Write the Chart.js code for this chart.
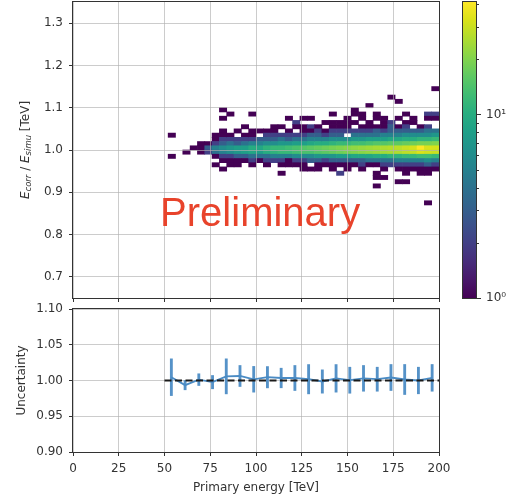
<!DOCTYPE html>
<html>
<head>
<meta charset="utf-8">
<script src="https://cdn.jsdelivr.net/npm/chart.js@4.4.1/dist/chart.umd.min.js"></script>
<style>
  html, body { margin: 0; padding: 0; background: #fff; }
  #wrap { position: relative; width: 516px; height: 500px; overflow: hidden; }
  #wrap canvas { position: absolute; }
</style>
</head>
<body>
<div id="wrap">
  <canvas id="ratioChart" width="452" height="305" style="left:0px;top:0px"></canvas>
  <canvas id="uncChart" width="452" height="200" style="left:0px;top:300px"></canvas>
  <canvas id="colourBar" width="64" height="312" style="left:452px;top:0px"></canvas>
</div>
<script>
// ---- 2D histogram: primary energy vs corrected/simulated energy ratio ----
const energyEdges = [52, 56, 60, 64, 68, 72, 76, 80, 84, 88, 92, 96, 100, 104, 108, 112, 116, 120, 124,
  128, 132, 136, 140, 144, 148, 152, 156, 160, 164, 168, 172, 176, 180, 184, 188, 192, 196, 200];
const ratioEdges = [1.15, 1.14, 1.13, 1.12, 1.11, 1.10, 1.09, 1.08, 1.07, 1.06, 1.05, 1.04, 1.03, 1.02,
  1.01, 1.00, 0.99, 0.98, 0.97, 0.96, 0.95, 0.94, 0.93, 0.92, 0.91, 0.90, 0.89, 0.88, 0.87];
// one row per energy bin; entries run from the highest ratio bin down to the lowest
const counts = [
  [0,0,0,0,0,0,0,0,0,0, 0,1,0,0,0,0,1,0,0,0, 0,0,0,0,0,0,0,0],
  [0,0,0,0,0,0,0,0,0,0, 0,0,0,0,0,0,0,0,0,0, 0,0,0,0,0,0,0,0],
  [0,0,0,0,0,0,0,0,0,0, 0,0,0,0,0,1,0,0,0,0, 0,0,0,0,0,0,0,0],
  [0,0,0,0,0,0,0,0,0,0, 0,0,0,0,1,0,0,0,0,0, 0,0,0,0,0,0,0,0],
  [0,0,0,0,0,0,0,0,0,0, 0,0,0,1,1,1,0,0,0,0, 0,0,0,0,0,0,0,0],
  [0,0,0,0,0,0,0,0,0,0, 0,0,0,1,3,2,0,0,0,0, 0,0,0,0,0,0,0,0],
  [0,0,0,0,0,0,0,0,0,0, 0,1,1,2,5,4,1,0,1,0, 0,0,0,0,0,0,0,0],
  [0,0,0,0,0,1,0,1,0,0, 1,1,2,3,6,5,2,1,0,1, 0,0,0,0,0,0,0,0],
  [0,0,0,0,0,0,1,0,0,0, 0,1,2,4,7,6,2,1,1,0, 0,0,0,0,0,0,0,0],
  [0,0,0,0,0,0,0,0,0,0, 1,0,2,3,8,7,3,1,1,0, 0,0,0,0,0,0,0,0],
  [0,0,0,0,0,0,0,0,0,1, 0,1,2,4,8,8,3,1,0,0, 0,0,0,0,0,0,0,0],
  [0,0,0,0,0,0,1,0,0,0, 1,1,2,5,10,9,4,2,1,0, 0,0,0,0,0,0,0,0],
  [0,0,0,0,0,0,0,0,0,0, 1,0,3,5,9,8,4,1,0,0, 0,0,0,0,0,0,0,0],
  [0,0,0,0,0,0,0,0,0,0, 1,2,3,6,11,10,4,2,1,0, 0,0,0,0,0,0,0,0],
  [0,0,0,0,0,0,0,0,0,1, 1,2,3,6,12,11,5,2,0,0, 0,0,0,0,0,0,0,0],
  [0,0,0,0,0,0,0,0,0,1, 0,2,4,7,12,12,5,2,1,0, 1,0,0,0,0,0,0,0],
  [0,0,0,0,0,0,0,1,0,0, 1,2,3,7,13,12,5,1,1,0, 0,0,0,0,0,0,0,0],
  [0,0,0,0,0,0,0,0,2,1, 0,2,4,8,14,13,6,2,1,0, 0,0,0,0,0,0,0,0],
  [0,0,0,0,0,0,0,1,0,1, 1,2,4,8,15,14,6,2,1,1, 0,0,0,0,0,0,0,0],
  [0,0,0,0,0,0,0,1,0,2, 1,3,5,9,16,14,6,3,0,1, 0,0,0,0,0,0,0,0],
  [0,0,0,0,0,0,0,0,0,1, 2,3,5,10,17,15,7,3,1,1, 0,0,0,0,0,0,0,0],
  [0,0,0,0,0,0,0,0,1,0, 1,2,5,10,18,16,7,2,1,0, 0,0,0,0,0,0,0,0],
  [0,0,0,0,0,0,1,0,1,1, 2,3,6,11,19,17,7,3,1,1, 0,0,0,0,0,0,0,0],
  [0,0,0,0,0,0,0,0,1,1, 2,3,6,12,20,18,8,3,1,0, 2,0,0,0,0,0,0,0],
  [0,0,0,0,0,0,0,1,1,1, 2,0,6,12,21,19,8,3,1,1, 0,0,0,0,0,0,0,0],
  [0,0,0,0,0,1,1,0,1,0, 2,4,7,13,22,20,9,3,1,0, 0,0,0,0,0,0,0,0],
  [0,0,0,0,0,0,1,1,0,1, 2,4,7,13,23,21,9,3,2,1, 0,0,0,0,0,0,0,0],
  [0,0,0,0,1,0,0,0,1,1, 2,4,8,14,24,22,9,4,1,0, 0,0,0,0,0,0,0,0],
  [0,0,0,0,0,0,1,1,0,1, 3,4,8,15,25,23,10,4,1,0, 1,1,0,1,0,0,0,0],
  [0,0,0,0,0,0,0,1,1,1, 2,5,8,15,26,24,10,4,2,1, 0,1,0,0,0,0,0,0],
  [0,0,1,0,0,0,0,0,2,3, 3,5,9,16,27,25,11,4,2,0, 0,0,0,0,0,0,0,0],
  [0,0,0,1,0,0,0,1,0,1, 3,5,9,16,28,26,11,5,2,1, 0,0,1,0,0,0,0,0],
  [0,0,0,0,0,0,1,0,1,2, 3,6,10,17,30,28,12,5,2,1, 1,0,1,0,0,0,0,0],
  [0,0,0,0,0,0,0,1,1,0, 3,6,10,18,32,29,12,5,2,1, 0,0,0,0,0,0,0,0],
  [0,0,0,0,0,0,0,0,0,1, 3,6,11,19,41,33,13,5,2,1, 1,0,0,0,0,0,0,0],
  [0,0,0,0,0,0,2,1,0,2, 4,6,11,19,33,31,13,6,3,1, 1,0,0,0,0,0,0,1],
  [1,0,0,0,0,0,2,1,0,0, 4,7,12,20,32,30,12,5,2,1, 0,0,0,0,0,0,0,0]
];

// ---- relative uncertainty per energy bin ----
const uncEnergy = [53.75, 61.25, 68.75, 76.25, 83.75, 91.25, 98.75, 106.25, 113.75, 121.25,
  128.75, 136.25, 143.75, 151.25, 158.75, 166.25, 173.75, 181.25, 188.75, 196.25];
const uncValue = [1.0046, 0.9935, 1.0012, 0.9977, 1.0058, 1.0063, 1.0017, 1.0046, 1.0035, 1.0035,
  1.0018, 0.9986, 1.0030, 1.0004, 1.0030, 1.0018, 1.0042, 1.0014, 1.0000, 1.0037];
const uncError = [0.0257, 0.0065, 0.0082, 0.0093, 0.0245, 0.0147, 0.0180, 0.0149, 0.0137, 0.0175,
  0.0205, 0.0163, 0.0193, 0.0182, 0.0180, 0.0168, 0.0182, 0.0210, 0.0186, 0.0187];
const refEnergy = [50, 200];
const refValue = [1, 1];

// ---- ticks ----
const energyTicks = [0, 25, 50, 75, 100, 125, 150, 175, 200];
const ratioTicks = [0.7, 0.8, 0.9, 1.0, 1.1, 1.2, 1.3];
const uncTicks = [0.90, 0.95, 1.00, 1.05, 1.10];
const colourTicks = [1, 2, 3, 4, 5, 6, 7, 8, 9, 10, 20, 30, 40];

// ---- styling ----
const FONT = '"DejaVu Sans", sans-serif';
const TEXT = '#333333';
const GRID = 'rgba(176,176,176,0.65)';
const SPINE = '#333333';
Chart.defaults.font.family = FONT;
Chart.defaults.font.size = 12;
Chart.defaults.color = TEXT;

const viridisStops = ['#440154', '#48186a', '#472d7b', '#424086', '#3b528b', '#33638d', '#2c728e',
  '#26828e', '#21918c', '#1fa088', '#28ae80', '#3fbc73', '#5ec962', '#84d44b', '#addc30', '#d8e219', '#fde725'];
function hexRgb(h) { return [1, 3, 5].map(i => parseInt(h.substr(i, 2), 16)); }
function viridis(t) {
  t = Math.min(1, Math.max(0, t));
  const p = t * (viridisStops.length - 1);
  const i = Math.min(Math.floor(p), viridisStops.length - 2);
  const f = p - i;
  const a = hexRgb(viridisStops[i]), b = hexRgb(viridisStops[i + 1]);
  const c = a.map((v, k) => Math.round(v + (b[k] - v) * f));
  return `rgb(${c[0]},${c[1]},${c[2]})`;
}
const countMax = Math.max(...counts.flat());
function countColour(n) { return viridis(Math.log(n) / Math.log(countMax)); }

// cells of the histogram as floating bars
const heatCells = [];
counts.forEach((col, c) => {
  col.forEach((n, r) => {
    if (n > 0) {
      heatCells.push({ x: (energyEdges[c] + energyEdges[c + 1]) / 2, y: [ratioEdges[r + 1], ratioEdges[r]], n });
    }
  });
});

function fixedTicks(values) {
  return scale => { scale.ticks = values.map(v => ({ value: v })); };
}

const frame = {
  id: 'frame',
  afterDraw(chart) {
    const { ctx, chartArea: a } = chart;
    ctx.save();
    ctx.strokeStyle = SPINE;
    ctx.lineWidth = 1;
    ctx.strokeRect(a.left - 0.5, a.top - 0.5, a.width + 1, a.height + 1);
    ctx.restore();
  }
};

// y-axis title with italic symbols and subscripts
const ratioTitle = {
  id: 'ratioTitle',
  afterDraw(chart) {
    const { ctx, chartArea: a } = chart;
    const big = 'italic 12px ' + FONT, small = 'italic 8.5px ' + FONT, plain = '12px ' + FONT;
    const parts = [['E', big, 0], ['corr', small, 2.5], [' / ', plain, 0], ['E', big, 0], ['simu', small, 2.5], [' [TeV]', plain, 0]];
    ctx.save();
    let total = 0;
    const widths = parts.map(p => { ctx.font = p[1]; const w = ctx.measureText(p[0]).width; total += w; return w; });
    ctx.translate(28.5, (a.top + a.bottom) / 2);
    ctx.rotate(-Math.PI / 2);
    ctx.fillStyle = TEXT;
    ctx.textBaseline = 'alphabetic';
    let x = -total / 2;
    parts.forEach((p, i) => { ctx.font = p[1]; ctx.fillText(p[0], x, p[2]); x += widths[i]; });
    ctx.restore();
  }
};

const preliminary = {
  id: 'preliminary',
  afterDraw(chart) {
    const { ctx, scales } = chart;
    ctx.save();
    ctx.font = '40px "Liberation Sans", Arial, sans-serif';
    ctx.fillStyle = '#e8432b';
    ctx.textBaseline = 'alphabetic';
    ctx.fillText('Preliminary', scales.x.getPixelForValue(47.6), scales.y.getPixelForValue(0.8195));
    ctx.restore();
  }
};

function noEdgePadding(width, height) {
  return scale => {
    if (width !== undefined) scale.width = width;
    if (height !== undefined) scale.height = height;
    scale.paddingTop = 0; scale.paddingBottom = 0; scale.paddingLeft = 0; scale.paddingRight = 0;
  };
}

// ---- upper panel: histogram ----
new Chart(document.getElementById('ratioChart'), {
  type: 'bar',
  data: {
    datasets: [{
      data: heatCells,
      backgroundColor: ctx => countColour(ctx.raw.n),
      borderWidth: 0,
      barPercentage: 1,
      categoryPercentage: 1,
      grouped: false
    }]
  },
  options: {
    responsive: false,
    animation: false,
    events: [],
    layout: { padding: { top: 2, right: 13, bottom: 0, left: 0 } },
    plugins: { legend: { display: false }, tooltip: { enabled: false } },
    scales: {
      x: {
        type: 'linear', min: 0, max: 200, offset: false,
        afterBuildTicks: fixedTicks(energyTicks),
        afterFit: noEdgePadding(undefined, 7),
        ticks: { display: false },
        grid: { color: GRID, lineWidth: 1, z: 1, offset: false, tickLength: 4, tickColor: SPINE },
        border: { display: false }
      },
      y: {
        type: 'linear', min: 0.65, max: 1.35,
        afterBuildTicks: fixedTicks(ratioTicks),
        afterFit: noEdgePadding(73, undefined),
        ticks: { padding: 6, callback: v => v.toFixed(1), font: { size: 12 } },
        grid: { color: GRID, lineWidth: 1, z: 1, tickLength: 4, tickColor: SPINE },
        border: { display: false }
      }
    }
  },
  plugins: [frame, ratioTitle, preliminary]
});

// ---- lower panel: uncertainty ----
new Chart(document.getElementById('uncChart'), {
  type: 'bar',
  data: {
    datasets: [
      {
        type: 'line',
        data: refEnergy.map((e, i) => ({ x: e, y: refValue[i] })),
        borderColor: '#1a1a1a', borderWidth: 2, borderDash: [7, 3.5],
        pointRadius: 0, order: 0
      },
      {
        type: 'line',
        data: uncEnergy.map((e, i) => ({ x: e, y: uncValue[i] })),
        borderColor: '#4a8bc4', borderWidth: 1.8, tension: 0,
        pointRadius: 0, order: 1
      },
      {
        type: 'bar',
        data: uncEnergy.map((e, i) => ({ x: e, y: [uncValue[i] - uncError[i], uncValue[i] + uncError[i]] })),
        backgroundColor: '#5592c8', borderWidth: 0,
        barThickness: 2.2, order: 2
      }
    ]
  },
  options: {
    responsive: false,
    animation: false,
    events: [],
    layout: { padding: { top: 9, right: 13, bottom: 0, left: 0 } },
    plugins: { legend: { display: false }, tooltip: { enabled: false } },
    scales: {
      x: {
        type: 'linear', min: 0, max: 200, offset: false,
        afterBuildTicks: fixedTicks(energyTicks),
        afterFit: noEdgePadding(undefined, 48),
        ticks: { padding: 6, maxRotation: 0, autoSkip: false },
        grid: { color: GRID, lineWidth: 1, offset: false, tickLength: 4, tickColor: SPINE },
        border: { display: false },
        title: { display: true, text: 'Primary energy [TeV]', color: TEXT, font: { size: 12 }, padding: { top: 0, bottom: 5 } }
      },
      y: {
        type: 'linear', min: 0.9, max: 1.1,
        afterBuildTicks: fixedTicks(uncTicks),
        afterFit: noEdgePadding(73, undefined),
        ticks: { padding: 6, callback: v => v.toFixed(2) },
        grid: { color: GRID, lineWidth: 1, tickLength: 4, tickColor: SPINE },
        border: { display: false },
        title: { display: true, text: 'Uncertainty', color: TEXT, font: { size: 12 }, padding: { top: 15, bottom: 0 } }
      }
    }
  },
  plugins: [frame]
});

// ---- colour bar (log scale of counts) ----
const colourTickMarks = {
  id: 'colourTickMarks',
  afterDraw(chart) {
    const { ctx, chartArea: a, scales } = chart;
    ctx.save();
    ctx.strokeStyle = SPINE;
    ctx.lineWidth = 1;
    colourTicks.forEach(v => {
      if (v > countMax) return;
      const y = Math.round(scales.y.getPixelForValue(v)) + 0.5;
      const len = (v === 1 || v === 10) ? 5 : 3;
      ctx.beginPath();
      ctx.moveTo(a.right, y);
      ctx.lineTo(a.right + len, y);
      ctx.stroke();
    });
    ctx.restore();
  }
};

new Chart(document.getElementById('colourBar'), {
  type: 'bar',
  data: {
    labels: ['counts'],
    datasets: [{
      data: [[1, countMax]],
      backgroundColor: ctx => {
        const area = ctx.chart.chartArea;
        if (!area) return viridisStops[0];
        const g = ctx.chart.ctx.createLinearGradient(0, area.bottom, 0, area.top);
        viridisStops.forEach((c, i) => g.addColorStop(i / (viridisStops.length - 1), c));
        return g;
      },
      borderWidth: 0,
      barPercentage: 1,
      categoryPercentage: 1
    }]
  },
  options: {
    responsive: false,
    animation: false,
    events: [],
    layout: { padding: { top: 2, right: 0, bottom: 14, left: 11 } },
    plugins: { legend: { display: false }, tooltip: { enabled: false } },
    scales: {
      x: { display: false },
      y: {
        type: 'logarithmic', position: 'right', min: 1, max: countMax,
        afterBuildTicks: fixedTicks(colourTicks),
        afterFit: noEdgePadding(40, undefined),
        ticks: {
          padding: 10,
          autoSkip: false,
          callback: v => (v === 1 ? '10\u2070' : v === 10 ? '10\u00b9' : '')
        },
        grid: { drawOnChartArea: false, drawTicks: false },
        border: { display: false }
      }
    }
  },
  plugins: [frame, colourTickMarks]
});
</script>
</body>
</html>
